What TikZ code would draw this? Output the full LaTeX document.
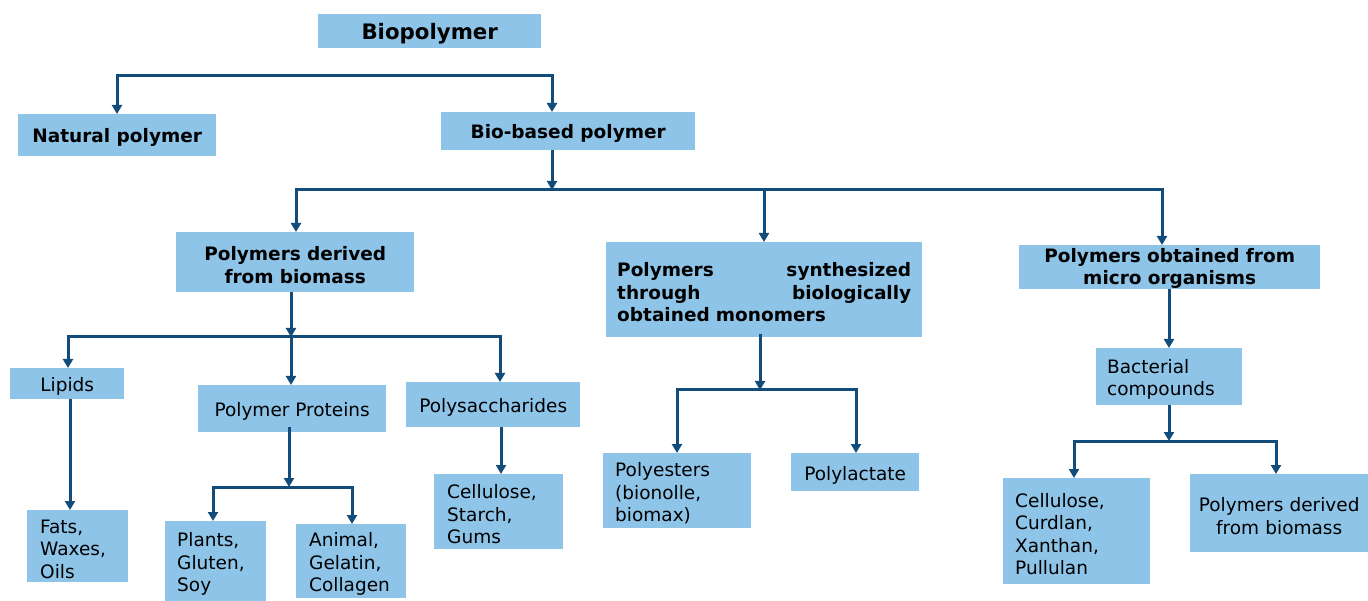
\documentclass[tikz,border=0pt]{standalone}
\usepackage{fontspec}
\setmainfont{DejaVu Sans}
\usetikzlibrary{arrows.meta}
\definecolor{boxblue}{HTML}{8DC4E8}
\definecolor{linkblue}{HTML}{124C7A}
\begin{document}
\begin{tikzpicture}[x=1pt,y=-1pt,
  box/.style={fill=boxblue, draw=none, inner ysep=1pt, anchor=north west,
    text height=19.5pt, font=\fontsize{18.5}{22.5}\selectfont},
  bbox/.style={box, font=\fontsize{18.5}{22.5}\selectfont\bfseries},
  conn/.style={draw=linkblue, line width=3pt, line join=miter},
  arr/.style={conn, -{Triangle[width=10pt,length=9pt]}}]
\useasboundingbox (0,0) rectangle (1368,601);
\node[bbox, minimum width=223pt, minimum height=34pt, text height=21.5pt, font=\fontsize{21.3}{25}\selectfont\bfseries] (bio) at (318,14) {Biopolymer};
\node[bbox, minimum width=198pt, minimum height=42pt] (nat) at (18,114) {Natural polymer};
\node[bbox, minimum width=254pt, minimum height=38pt] (bb) at (441,112) {Bio-based polymer};
\node[bbox, minimum width=238pt, minimum height=60pt, inner xsep=4pt, text width=230pt, align=center] (der) at (176,232) {Polymers derived\\from biomass};
\node[bbox, minimum width=316pt, minimum height=95pt, inner xsep=11pt, text width=294pt, align=left] (syn) at (606,242) {Polymers\hfill synthesized\\through\hfill biologically\\obtained monomers};
\node[bbox, minimum width=301pt, minimum height=44pt, inner ysep=0pt, text height=17pt, inner xsep=4pt, text width=293pt, align=center] (mic) at (1019,245) {Polymers obtained from\\micro organisms};
\node[box, minimum width=114pt, minimum height=31pt] (lip) at (10,368) {Lipids};
\node[box, minimum width=188pt, minimum height=47pt] (pp) at (198,385) {Polymer Proteins};
\node[box, minimum width=174pt, minimum height=45pt] (ps) at (406,382) {Polysaccharides};
\node[box, minimum width=101pt, minimum height=72pt, inner xsep=13pt, text width=75pt, align=left] (fat) at (27,510) {Fats,\\Waxes,\\Oils};
\node[box, minimum width=101pt, minimum height=80pt, inner xsep=12pt, text width=77pt, align=left] (pla) at (165,521) {Plants,\\Gluten,\\Soy};
\node[box, minimum width=110pt, minimum height=74pt, inner xsep=13pt, text width=84pt, align=left] (ani) at (296,524) {Animal,\\Gelatin,\\Collagen};
\node[box, minimum width=129pt, minimum height=75pt, inner xsep=13pt, text width=103pt, align=left] (cel) at (434,474) {Cellulose,\\Starch,\\Gums};
\node[box, minimum width=148pt, minimum height=75pt, inner xsep=12pt, text width=124pt, align=left] (pes) at (603,453) {Polyesters\\(bionolle,\\biomax)};
\node[box, minimum width=128pt, minimum height=38pt] (pla2) at (791,453) {Polylactate};
\node[box, minimum width=146pt, minimum height=57pt, inner xsep=11pt, text width=124pt, align=left] (bac) at (1096,348) {Bacterial\\compounds};
\node[box, minimum width=147pt, minimum height=106pt, inner xsep=12pt, text width=123pt, align=left] (cur) at (1003,478) {Cellulose,\\Curdlan,\\Xanthan,\\Pullulan};
\node[box, minimum width=178pt, minimum height=78pt, inner xsep=4pt, text width=170pt, align=center] (pdb) at (1190,474) {Polymers derived\\from biomass};
% bus coordinates
\coordinate (t1) at (117,76);
\coordinate (t2) at (552,76);
\coordinate (m0) at (552,190);
\coordinate (m1) at (296,190);
\coordinate (m2) at (764,190);
\coordinate (m3) at (1162,190);
\coordinate (l0) at (291,337);
\coordinate (l1) at (68,337);
\coordinate (l3) at (500,337);
\coordinate (p0) at (289,487);
\coordinate (p1) at (213,487);
\coordinate (p2) at (352,487);
\coordinate (s0) at (760,390);
\coordinate (s1) at (677,390);
\coordinate (s2) at (856,390);
\coordinate (b0) at (1169,441);
\coordinate (b1) at (1074,441);
\coordinate (b2) at (1276,441);
% top level
\draw[arr] (t2) -- (t1) -- (t1 |- nat.north);
\draw[arr] (t1) -- (t2) -- (t2 |- bb.north);
% second level
\draw[arr] (t2 |- bb.south) -- (m0);
\draw[arr] (m3) -- (m1) -- (m1 |- der.north);
\draw[arr] (m1) -- (m2) -- (m2 |- syn.north);
\draw[arr] (m1) -- (m3) -- (m3 |- mic.north);
% biomass branch
\draw[arr] (l0 |- der.south) -- (l0);
\draw[arr] (l0) -- (l0 |- pp.north);
\draw[arr] (l3) -- (l1) -- (l1 |- lip.north);
\draw[arr] (l1) -- (l3) -- (l3 |- ps.north);
\draw[arr] ([xshift=2pt]l1 |- lip.south) -- ([xshift=2pt]l1 |- fat.north);
\draw[arr] ([yshift=5pt]p0 |- pp.south) -- (p0);
\draw[arr] (p2) -- (p1) -- (p1 |- pla.north);
\draw[arr] (p1) -- (p2) -- (p2 |- ani.north);
\draw[arr] ([xshift=1pt]l3 |- ps.south) -- ([xshift=1pt]l3 |- cel.north);
% synthesized branch
\draw[arr] ([yshift=3pt]s0 |- syn.south) -- (s0);
\draw[arr] (s2) -- (s1) -- (s1 |- pes.north);
\draw[arr] (s1) -- (s2) -- (s2 |- pla2.north);
% micro branch
\draw[arr] (b0 |- mic.south) -- (b0 |- bac.north);
\draw[arr] (b0 |- bac.south) -- (b0);
\draw[arr] (b2) -- (b1) -- (b1 |- cur.north);
\draw[arr] (b1) -- (b2) -- (b2 |- pdb.north);
\end{tikzpicture}
\end{document}
